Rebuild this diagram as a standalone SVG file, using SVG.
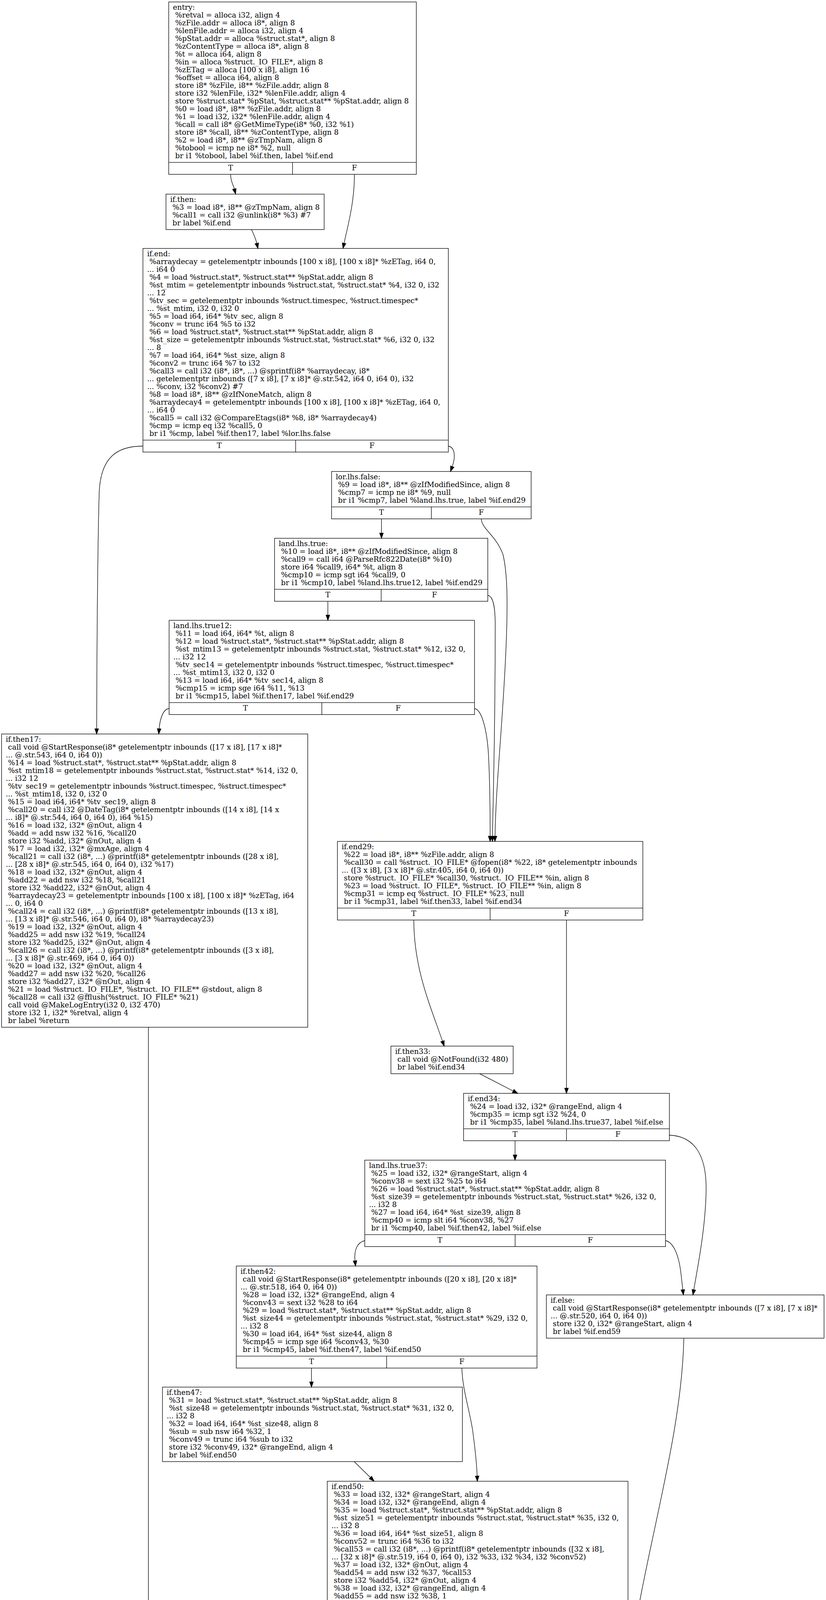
<svg xmlns="http://www.w3.org/2000/svg" width="2115" height="6420" viewBox="0 0 2115 6420">
<style>
.box{fill:none;stroke:#000;stroke-width:1.33}
.sep{stroke:#000;stroke-width:1.33}
.lbl{font-family:"DejaVu Serif","Liberation Serif",serif;font-size:18.67px;fill:#000}
.tf{font-family:"DejaVu Serif","Liberation Serif",serif;font-size:18.67px;fill:#000;text-anchor:middle}
.edge{fill:none;stroke:#000;stroke-width:1.33;marker-end:url(#ah)}
.cap{font-family:"DejaVu Serif","Liberation Serif",serif;font-size:18.67px;fill:#000;text-anchor:middle}
</style>
<defs>
<marker id="ah" markerUnits="userSpaceOnUse" markerWidth="16" markerHeight="12" refX="0" refY="6" orient="auto" viewBox="0 0 16 12" overflow="visible">
<path d="M0,1.33 L13.33,6 L0,10.67 z" fill="#000" stroke="#000" stroke-width="1.33"/>
</marker>
</defs>
<rect x="0" y="0" width="2115" height="6420" fill="#fff"/>

<g id="node-entry">
<rect class="box" x="432" y="5" width="634" height="441.33"/>
<line class="sep" x1="432" y1="415.67" x2="1066" y2="415.67"/>
<line class="sep" x1="749" y1="415.67" x2="749" y2="446.33"/>
<text class="lbl" x="442.67" y="25.3">
<tspan x="442.67">entry:</tspan>
<tspan x="442.67" dy="20">&#160;%retval = alloca i32, align 4</tspan>
<tspan x="442.67" dy="20">&#160;%zFile.addr = alloca i8*, align 8</tspan>
<tspan x="442.67" dy="20">&#160;%lenFile.addr = alloca i32, align 4</tspan>
<tspan x="442.67" dy="20">&#160;%pStat.addr = alloca %struct.stat*, align 8</tspan>
<tspan x="442.67" dy="20">&#160;%zContentType = alloca i8*, align 8</tspan>
<tspan x="442.67" dy="20">&#160;%t = alloca i64, align 8</tspan>
<tspan x="442.67" dy="20">&#160;%in = alloca %struct._IO_FILE*, align 8</tspan>
<tspan x="442.67" dy="20">&#160;%zETag = alloca [100 x i8], align 16</tspan>
<tspan x="442.67" dy="20">&#160;%offset = alloca i64, align 8</tspan>
<tspan x="442.67" dy="20">&#160;store i8* %zFile, i8** %zFile.addr, align 8</tspan>
<tspan x="442.67" dy="20">&#160;store i32 %lenFile, i32* %lenFile.addr, align 4</tspan>
<tspan x="442.67" dy="20">&#160;store %struct.stat* %pStat, %struct.stat** %pStat.addr, align 8</tspan>
<tspan x="442.67" dy="20">&#160;%0 = load i8*, i8** %zFile.addr, align 8</tspan>
<tspan x="442.67" dy="20">&#160;%1 = load i32, i32* %lenFile.addr, align 4</tspan>
<tspan x="442.67" dy="20">&#160;%call = call i8* @GetMimeType(i8* %0, i32 %1)</tspan>
<tspan x="442.67" dy="20">&#160;store i8* %call, i8** %zContentType, align 8</tspan>
<tspan x="442.67" dy="20">&#160;%2 = load i8*, i8** @zTmpNam, align 8</tspan>
<tspan x="442.67" dy="20">&#160;%tobool = icmp ne i8* %2, null</tspan>
<tspan x="442.67" dy="20">&#160;br i1 %tobool, label %if.then, label %if.end</tspan>
</text>
<text class="tf" x="590.5" y="436">T</text>
<text class="tf" x="907.5" y="436">F</text>
</g>

<g id="node-if.then">
<rect class="box" x="425" y="497" width="405" height="90.67"/>
<text class="lbl" x="435.67" y="517.3">
<tspan x="435.67">if.then:</tspan>
<tspan x="435.67" dy="20">&#160;%3 = load i8*, i8** @zTmpNam, align 8</tspan>
<tspan x="435.67" dy="20">&#160;%call1 = call i32 @unlink(i8* %3) #7</tspan>
<tspan x="435.67" dy="20">&#160;br label %if.end</tspan>
</text>
</g>

<g id="node-if.end">
<rect class="box" x="366" y="636" width="782" height="521.33"/>
<line class="sep" x1="366" y1="1126.67" x2="1148" y2="1126.67"/>
<line class="sep" x1="757" y1="1126.67" x2="757" y2="1157.33"/>
<text class="lbl" x="376.67" y="656.3">
<tspan x="376.67">if.end:</tspan>
<tspan x="376.67" dy="20">&#160;%arraydecay = getelementptr inbounds [100 x i8], [100 x i8]* %zETag, i64 0,</tspan>
<tspan x="376.67" dy="20">... i64 0</tspan>
<tspan x="376.67" dy="20">&#160;%4 = load %struct.stat*, %struct.stat** %pStat.addr, align 8</tspan>
<tspan x="376.67" dy="20">&#160;%st_mtim = getelementptr inbounds %struct.stat, %struct.stat* %4, i32 0, i32</tspan>
<tspan x="376.67" dy="20">... 12</tspan>
<tspan x="376.67" dy="20">&#160;%tv_sec = getelementptr inbounds %struct.timespec, %struct.timespec*</tspan>
<tspan x="376.67" dy="20">... %st_mtim, i32 0, i32 0</tspan>
<tspan x="376.67" dy="20">&#160;%5 = load i64, i64* %tv_sec, align 8</tspan>
<tspan x="376.67" dy="20">&#160;%conv = trunc i64 %5 to i32</tspan>
<tspan x="376.67" dy="20">&#160;%6 = load %struct.stat*, %struct.stat** %pStat.addr, align 8</tspan>
<tspan x="376.67" dy="20">&#160;%st_size = getelementptr inbounds %struct.stat, %struct.stat* %6, i32 0, i32</tspan>
<tspan x="376.67" dy="20">... 8</tspan>
<tspan x="376.67" dy="20">&#160;%7 = load i64, i64* %st_size, align 8</tspan>
<tspan x="376.67" dy="20">&#160;%conv2 = trunc i64 %7 to i32</tspan>
<tspan x="376.67" dy="20">&#160;%call3 = call i32 (i8*, i8*, ...) @sprintf(i8* %arraydecay, i8*</tspan>
<tspan x="376.67" dy="20">... getelementptr inbounds ([7 x i8], [7 x i8]* @.str.542, i64 0, i64 0), i32</tspan>
<tspan x="376.67" dy="20">... %conv, i32 %conv2) #7</tspan>
<tspan x="376.67" dy="20">&#160;%8 = load i8*, i8** @zIfNoneMatch, align 8</tspan>
<tspan x="376.67" dy="20">&#160;%arraydecay4 = getelementptr inbounds [100 x i8], [100 x i8]* %zETag, i64 0,</tspan>
<tspan x="376.67" dy="20">... i64 0</tspan>
<tspan x="376.67" dy="20">&#160;%call5 = call i32 @CompareEtags(i8* %8, i8* %arraydecay4)</tspan>
<tspan x="376.67" dy="20">&#160;%cmp = icmp eq i32 %call5, 0</tspan>
<tspan x="376.67" dy="20">&#160;br i1 %cmp, label %if.then17, label %lor.lhs.false</tspan>
</text>
<text class="tf" x="561.5" y="1147">T</text>
<text class="tf" x="952.5" y="1147">F</text>
</g>

<g id="node-lor.lhs.false">
<rect class="box" x="849" y="1207" width="511" height="121.33"/>
<line class="sep" x1="849" y1="1297.67" x2="1360" y2="1297.67"/>
<line class="sep" x1="1104.5" y1="1297.67" x2="1104.5" y2="1328.33"/>
<text class="lbl" x="859.67" y="1227.3">
<tspan x="859.67">lor.lhs.false:</tspan>
<tspan x="859.67" dy="20">&#160;%9 = load i8*, i8** @zIfModifiedSince, align 8</tspan>
<tspan x="859.67" dy="20">&#160;%cmp7 = icmp ne i8* %9, null</tspan>
<tspan x="859.67" dy="20">&#160;br i1 %cmp7, label %land.lhs.true, label %if.end29</tspan>
</text>
<text class="tf" x="976.75" y="1318">T</text>
<text class="tf" x="1232.25" y="1318">F</text>
</g>

<g id="node-land.lhs.true">
<rect class="box" x="703" y="1378" width="546" height="161.33"/>
<line class="sep" x1="703" y1="1508.67" x2="1249" y2="1508.67"/>
<line class="sep" x1="976" y1="1508.67" x2="976" y2="1539.33"/>
<text class="lbl" x="713.67" y="1398.3">
<tspan x="713.67">land.lhs.true:</tspan>
<tspan x="713.67" dy="20">&#160;%10 = load i8*, i8** @zIfModifiedSince, align 8</tspan>
<tspan x="713.67" dy="20">&#160;%call9 = call i64 @ParseRfc822Date(i8* %10)</tspan>
<tspan x="713.67" dy="20">&#160;store i64 %call9, i64* %t, align 8</tspan>
<tspan x="713.67" dy="20">&#160;%cmp10 = icmp sgt i64 %call9, 0</tspan>
<tspan x="713.67" dy="20">&#160;br i1 %cmp10, label %land.lhs.true12, label %if.end29</tspan>
</text>
<text class="tf" x="839.5" y="1529">T</text>
<text class="tf" x="1112.5" y="1529">F</text>
</g>

<g id="node-land.lhs.true12">
<rect class="box" x="433" y="1588" width="782" height="241.33"/>
<line class="sep" x1="433" y1="1798.67" x2="1215" y2="1798.67"/>
<line class="sep" x1="824" y1="1798.67" x2="824" y2="1829.33"/>
<text class="lbl" x="443.67" y="1608.3">
<tspan x="443.67">land.lhs.true12:</tspan>
<tspan x="443.67" dy="20">&#160;%11 = load i64, i64* %t, align 8</tspan>
<tspan x="443.67" dy="20">&#160;%12 = load %struct.stat*, %struct.stat** %pStat.addr, align 8</tspan>
<tspan x="443.67" dy="20">&#160;%st_mtim13 = getelementptr inbounds %struct.stat, %struct.stat* %12, i32 0,</tspan>
<tspan x="443.67" dy="20">... i32 12</tspan>
<tspan x="443.67" dy="20">&#160;%tv_sec14 = getelementptr inbounds %struct.timespec, %struct.timespec*</tspan>
<tspan x="443.67" dy="20">... %st_mtim13, i32 0, i32 0</tspan>
<tspan x="443.67" dy="20">&#160;%13 = load i64, i64* %tv_sec14, align 8</tspan>
<tspan x="443.67" dy="20">&#160;%cmp15 = icmp sge i64 %11, %13</tspan>
<tspan x="443.67" dy="20">&#160;br i1 %cmp15, label %if.then17, label %if.end29</tspan>
</text>
<text class="tf" x="628.5" y="1819">T</text>
<text class="tf" x="1019.5" y="1819">F</text>
</g>

<g id="node-if.then17">
<rect class="box" x="4" y="1879" width="784" height="750.67"/>
<text class="lbl" x="14.67" y="1899.3">
<tspan x="14.67">if.then17:</tspan>
<tspan x="14.67" dy="20">&#160;call void @StartResponse(i8* getelementptr inbounds ([17 x i8], [17 x i8]*</tspan>
<tspan x="14.67" dy="20">... @.str.543, i64 0, i64 0))</tspan>
<tspan x="14.67" dy="20">&#160;%14 = load %struct.stat*, %struct.stat** %pStat.addr, align 8</tspan>
<tspan x="14.67" dy="20">&#160;%st_mtim18 = getelementptr inbounds %struct.stat, %struct.stat* %14, i32 0,</tspan>
<tspan x="14.67" dy="20">... i32 12</tspan>
<tspan x="14.67" dy="20">&#160;%tv_sec19 = getelementptr inbounds %struct.timespec, %struct.timespec*</tspan>
<tspan x="14.67" dy="20">... %st_mtim18, i32 0, i32 0</tspan>
<tspan x="14.67" dy="20">&#160;%15 = load i64, i64* %tv_sec19, align 8</tspan>
<tspan x="14.67" dy="20">&#160;%call20 = call i32 @DateTag(i8* getelementptr inbounds ([14 x i8], [14 x</tspan>
<tspan x="14.67" dy="20">... i8]* @.str.544, i64 0, i64 0), i64 %15)</tspan>
<tspan x="14.67" dy="20">&#160;%16 = load i32, i32* @nOut, align 4</tspan>
<tspan x="14.67" dy="20">&#160;%add = add nsw i32 %16, %call20</tspan>
<tspan x="14.67" dy="20">&#160;store i32 %add, i32* @nOut, align 4</tspan>
<tspan x="14.67" dy="20">&#160;%17 = load i32, i32* @mxAge, align 4</tspan>
<tspan x="14.67" dy="20">&#160;%call21 = call i32 (i8*, ...) @printf(i8* getelementptr inbounds ([28 x i8],</tspan>
<tspan x="14.67" dy="20">... [28 x i8]* @.str.545, i64 0, i64 0), i32 %17)</tspan>
<tspan x="14.67" dy="20">&#160;%18 = load i32, i32* @nOut, align 4</tspan>
<tspan x="14.67" dy="20">&#160;%add22 = add nsw i32 %18, %call21</tspan>
<tspan x="14.67" dy="20">&#160;store i32 %add22, i32* @nOut, align 4</tspan>
<tspan x="14.67" dy="20">&#160;%arraydecay23 = getelementptr inbounds [100 x i8], [100 x i8]* %zETag, i64</tspan>
<tspan x="14.67" dy="20">... 0, i64 0</tspan>
<tspan x="14.67" dy="20">&#160;%call24 = call i32 (i8*, ...) @printf(i8* getelementptr inbounds ([13 x i8],</tspan>
<tspan x="14.67" dy="20">... [13 x i8]* @.str.546, i64 0, i64 0), i8* %arraydecay23)</tspan>
<tspan x="14.67" dy="20">&#160;%19 = load i32, i32* @nOut, align 4</tspan>
<tspan x="14.67" dy="20">&#160;%add25 = add nsw i32 %19, %call24</tspan>
<tspan x="14.67" dy="20">&#160;store i32 %add25, i32* @nOut, align 4</tspan>
<tspan x="14.67" dy="20">&#160;%call26 = call i32 (i8*, ...) @printf(i8* getelementptr inbounds ([3 x i8],</tspan>
<tspan x="14.67" dy="20">... [3 x i8]* @.str.469, i64 0, i64 0))</tspan>
<tspan x="14.67" dy="20">&#160;%20 = load i32, i32* @nOut, align 4</tspan>
<tspan x="14.67" dy="20">&#160;%add27 = add nsw i32 %20, %call26</tspan>
<tspan x="14.67" dy="20">&#160;store i32 %add27, i32* @nOut, align 4</tspan>
<tspan x="14.67" dy="20">&#160;%21 = load %struct._IO_FILE*, %struct._IO_FILE** @stdout, align 8</tspan>
<tspan x="14.67" dy="20">&#160;%call28 = call i32 @fflush(%struct._IO_FILE* %21)</tspan>
<tspan x="14.67" dy="20">&#160;call void @MakeLogEntry(i32 0, i32 470)</tspan>
<tspan x="14.67" dy="20">&#160;store i32 1, i32* %retval, align 4</tspan>
<tspan x="14.67" dy="20">&#160;br label %return</tspan>
</text>
</g>

<g id="node-if.end29">
<rect class="box" x="864" y="2154" width="782" height="201.33"/>
<line class="sep" x1="864" y1="2324.67" x2="1646" y2="2324.67"/>
<line class="sep" x1="1255" y1="2324.67" x2="1255" y2="2355.33"/>
<text class="lbl" x="874.67" y="2174.3">
<tspan x="874.67">if.end29:</tspan>
<tspan x="874.67" dy="20">&#160;%22 = load i8*, i8** %zFile.addr, align 8</tspan>
<tspan x="874.67" dy="20">&#160;%call30 = call %struct._IO_FILE* @fopen(i8* %22, i8* getelementptr inbounds</tspan>
<tspan x="874.67" dy="20">... ([3 x i8], [3 x i8]* @.str.405, i64 0, i64 0))</tspan>
<tspan x="874.67" dy="20">&#160;store %struct._IO_FILE* %call30, %struct._IO_FILE** %in, align 8</tspan>
<tspan x="874.67" dy="20">&#160;%23 = load %struct._IO_FILE*, %struct._IO_FILE** %in, align 8</tspan>
<tspan x="874.67" dy="20">&#160;%cmp31 = icmp eq %struct._IO_FILE* %23, null</tspan>
<tspan x="874.67" dy="20">&#160;br i1 %cmp31, label %if.then33, label %if.end34</tspan>
</text>
<text class="tf" x="1059.5" y="2345">T</text>
<text class="tf" x="1450.5" y="2345">F</text>
</g>

<g id="node-if.then33">
<rect class="box" x="1001" y="2678" width="313" height="70.67"/>
<text class="lbl" x="1011.67" y="2698.3">
<tspan x="1011.67">if.then33:</tspan>
<tspan x="1011.67" dy="20">&#160;call void @NotFound(i32 480)</tspan>
<tspan x="1011.67" dy="20">&#160;br label %if.end34</tspan>
</text>
</g>

<g id="node-if.end34">
<rect class="box" x="1187" y="2799" width="527" height="121.33"/>
<line class="sep" x1="1187" y1="2889.67" x2="1714" y2="2889.67"/>
<line class="sep" x1="1450.5" y1="2889.67" x2="1450.5" y2="2920.33"/>
<text class="lbl" x="1197.67" y="2819.3">
<tspan x="1197.67">if.end34:</tspan>
<tspan x="1197.67" dy="20">&#160;%24 = load i32, i32* @rangeEnd, align 4</tspan>
<tspan x="1197.67" dy="20">&#160;%cmp35 = icmp sgt i32 %24, 0</tspan>
<tspan x="1197.67" dy="20">&#160;br i1 %cmp35, label %land.lhs.true37, label %if.else</tspan>
</text>
<text class="tf" x="1318.75" y="2910">T</text>
<text class="tf" x="1582.25" y="2910">F</text>
</g>

<g id="node-land.lhs.true37">
<rect class="box" x="934" y="2970" width="770" height="221.33"/>
<line class="sep" x1="934" y1="3160.67" x2="1704" y2="3160.67"/>
<line class="sep" x1="1319" y1="3160.67" x2="1319" y2="3191.33"/>
<text class="lbl" x="944.67" y="2990.3">
<tspan x="944.67">land.lhs.true37:</tspan>
<tspan x="944.67" dy="20">&#160;%25 = load i32, i32* @rangeStart, align 4</tspan>
<tspan x="944.67" dy="20">&#160;%conv38 = sext i32 %25 to i64</tspan>
<tspan x="944.67" dy="20">&#160;%26 = load %struct.stat*, %struct.stat** %pStat.addr, align 8</tspan>
<tspan x="944.67" dy="20">&#160;%st_size39 = getelementptr inbounds %struct.stat, %struct.stat* %26, i32 0,</tspan>
<tspan x="944.67" dy="20">... i32 8</tspan>
<tspan x="944.67" dy="20">&#160;%27 = load i64, i64* %st_size39, align 8</tspan>
<tspan x="944.67" dy="20">&#160;%cmp40 = icmp slt i64 %conv38, %27</tspan>
<tspan x="944.67" dy="20">&#160;br i1 %cmp40, label %if.then42, label %if.else</tspan>
</text>
<text class="tf" x="1126.5" y="3181">T</text>
<text class="tf" x="1511.5" y="3181">F</text>
</g>

<g id="node-if.else">
<rect class="box" x="1399" y="3315" width="711" height="110.67"/>
<text class="lbl" x="1409.67" y="3335.3">
<tspan x="1409.67">if.else:</tspan>
<tspan x="1409.67" dy="20">&#160;call void @StartResponse(i8* getelementptr inbounds ([7 x i8], [7 x i8]*</tspan>
<tspan x="1409.67" dy="20">... @.str.520, i64 0, i64 0))</tspan>
<tspan x="1409.67" dy="20">&#160;store i32 0, i32* @rangeStart, align 4</tspan>
<tspan x="1409.67" dy="20">&#160;br label %if.end59</tspan>
</text>
</g>

<g id="node-if.then42">
<rect class="box" x="605" y="3241" width="770" height="261.33"/>
<line class="sep" x1="605" y1="3471.67" x2="1375" y2="3471.67"/>
<line class="sep" x1="990" y1="3471.67" x2="990" y2="3502.33"/>
<text class="lbl" x="615.67" y="3261.3">
<tspan x="615.67">if.then42:</tspan>
<tspan x="615.67" dy="20">&#160;call void @StartResponse(i8* getelementptr inbounds ([20 x i8], [20 x i8]*</tspan>
<tspan x="615.67" dy="20">... @.str.518, i64 0, i64 0))</tspan>
<tspan x="615.67" dy="20">&#160;%28 = load i32, i32* @rangeEnd, align 4</tspan>
<tspan x="615.67" dy="20">&#160;%conv43 = sext i32 %28 to i64</tspan>
<tspan x="615.67" dy="20">&#160;%29 = load %struct.stat*, %struct.stat** %pStat.addr, align 8</tspan>
<tspan x="615.67" dy="20">&#160;%st_size44 = getelementptr inbounds %struct.stat, %struct.stat* %29, i32 0,</tspan>
<tspan x="615.67" dy="20">... i32 8</tspan>
<tspan x="615.67" dy="20">&#160;%30 = load i64, i64* %st_size44, align 8</tspan>
<tspan x="615.67" dy="20">&#160;%cmp45 = icmp sge i64 %conv43, %30</tspan>
<tspan x="615.67" dy="20">&#160;br i1 %cmp45, label %if.then47, label %if.end50</tspan>
</text>
<text class="tf" x="797.5" y="3492">T</text>
<text class="tf" x="1182.5" y="3492">F</text>
</g>

<g id="node-if.then47">
<rect class="box" x="416" y="3551" width="768" height="190.67"/>
<text class="lbl" x="426.67" y="3571.3">
<tspan x="426.67">if.then47:</tspan>
<tspan x="426.67" dy="20">&#160;%31 = load %struct.stat*, %struct.stat** %pStat.addr, align 8</tspan>
<tspan x="426.67" dy="20">&#160;%st_size48 = getelementptr inbounds %struct.stat, %struct.stat* %31, i32 0,</tspan>
<tspan x="426.67" dy="20">... i32 8</tspan>
<tspan x="426.67" dy="20">&#160;%32 = load i64, i64* %st_size48, align 8</tspan>
<tspan x="426.67" dy="20">&#160;%sub = sub nsw i64 %32, 1</tspan>
<tspan x="426.67" dy="20">&#160;%conv49 = trunc i64 %sub to i32</tspan>
<tspan x="426.67" dy="20">&#160;store i32 %conv49, i32* @rangeEnd, align 4</tspan>
<tspan x="426.67" dy="20">&#160;br label %if.end50</tspan>
</text>
</g>

<g id="node-if.end50">
<rect class="box" x="838" y="3792" width="770" height="470.67"/>
<text class="lbl" x="848.67" y="3812.3">
<tspan x="848.67">if.end50:</tspan>
<tspan x="848.67" dy="20">&#160;%33 = load i32, i32* @rangeStart, align 4</tspan>
<tspan x="848.67" dy="20">&#160;%34 = load i32, i32* @rangeEnd, align 4</tspan>
<tspan x="848.67" dy="20">&#160;%35 = load %struct.stat*, %struct.stat** %pStat.addr, align 8</tspan>
<tspan x="848.67" dy="20">&#160;%st_size51 = getelementptr inbounds %struct.stat, %struct.stat* %35, i32 0,</tspan>
<tspan x="848.67" dy="20">... i32 8</tspan>
<tspan x="848.67" dy="20">&#160;%36 = load i64, i64* %st_size51, align 8</tspan>
<tspan x="848.67" dy="20">&#160;%conv52 = trunc i64 %36 to i32</tspan>
<tspan x="848.67" dy="20">&#160;%call53 = call i32 (i8*, ...) @printf(i8* getelementptr inbounds ([32 x i8],</tspan>
<tspan x="848.67" dy="20">... [32 x i8]* @.str.519, i64 0, i64 0), i32 %33, i32 %34, i32 %conv52)</tspan>
<tspan x="848.67" dy="20">&#160;%37 = load i32, i32* @nOut, align 4</tspan>
<tspan x="848.67" dy="20">&#160;%add54 = add nsw i32 %37, %call53</tspan>
<tspan x="848.67" dy="20">&#160;store i32 %add54, i32* @nOut, align 4</tspan>
<tspan x="848.67" dy="20">&#160;%38 = load i32, i32* @rangeEnd, align 4</tspan>
<tspan x="848.67" dy="20">&#160;%add55 = add nsw i32 %38, 1</tspan>
<tspan x="848.67" dy="20">&#160;%39 = load i32, i32* @rangeStart, align 4</tspan>
<tspan x="848.67" dy="20">&#160;%sub56 = sub nsw i32 %add55, %39</tspan>
<tspan x="848.67" dy="20">&#160;%conv57 = sext i32 %sub56 to i64</tspan>
<tspan x="848.67" dy="20">&#160;%40 = load %struct.stat*, %struct.stat** %pStat.addr, align 8</tspan>
<tspan x="848.67" dy="20">&#160;%st_size58 = getelementptr inbounds %struct.stat, %struct.stat* %40, i32 0,</tspan>
<tspan x="848.67" dy="20">... i32 8</tspan>
<tspan x="848.67" dy="20">&#160;store i64 %conv57, i64* %st_size58, align 8</tspan>
<tspan x="848.67" dy="20">&#160;br label %if.end59</tspan>
</text>
</g>

<g id="node-if.end59">
<rect class="box" x="938" y="4311" width="783" height="1001.33"/>
<line class="sep" x1="938" y1="5281.67" x2="1721" y2="5281.67"/>
<line class="sep" x1="1329.5" y1="5281.67" x2="1329.5" y2="5312.33"/>
<text class="lbl" x="948.67" y="4331.3">
<tspan x="948.67">if.end59:</tspan>
<tspan x="948.67" dy="20">&#160;%41 = load %struct.stat*, %struct.stat** %pStat.addr, align 8</tspan>
<tspan x="948.67" dy="20">&#160;%st_mtim60 = getelementptr inbounds %struct.stat, %struct.stat* %41, i32 0,</tspan>
<tspan x="948.67" dy="20">... i32 12</tspan>
<tspan x="948.67" dy="20">&#160;%tv_sec61 = getelementptr inbounds %struct.timespec, %struct.timespec*</tspan>
<tspan x="948.67" dy="20">... %st_mtim60, i32 0, i32 0</tspan>
<tspan x="948.67" dy="20">&#160;%42 = load i64, i64* %tv_sec61, align 8</tspan>
<tspan x="948.67" dy="20">&#160;%call62 = call i32 @DateTag(i8* getelementptr inbounds ([14 x i8], [14 x</tspan>
<tspan x="948.67" dy="20">... i8]* @.str.544, i64 0, i64 0), i64 %42)</tspan>
<tspan x="948.67" dy="20">&#160;%43 = load i32, i32* @nOut, align 4</tspan>
<tspan x="948.67" dy="20">&#160;%add63 = add nsw i32 %43, %call62</tspan>
<tspan x="948.67" dy="20">&#160;store i32 %add63, i32* @nOut, align 4</tspan>
<tspan x="948.67" dy="20">&#160;%44 = load i32, i32* @mxAge, align 4</tspan>
<tspan x="948.67" dy="20">&#160;%call64 = call i32 (i8*, ...) @printf(i8* getelementptr inbounds ([28 x i8],</tspan>
<tspan x="948.67" dy="20">... [28 x i8]* @.str.545, i64 0, i64 0), i32 %44)</tspan>
<tspan x="948.67" dy="20">&#160;%45 = load i32, i32* @nOut, align 4</tspan>
<tspan x="948.67" dy="20">&#160;%add65 = add nsw i32 %45, %call64</tspan>
<tspan x="948.67" dy="20">&#160;store i32 %add65, i32* @nOut, align 4</tspan>
<tspan x="948.67" dy="20">&#160;%arraydecay66 = getelementptr inbounds [100 x i8], [100 x i8]* %zETag, i64</tspan>
<tspan x="948.67" dy="20">... 0, i64 0</tspan>
<tspan x="948.67" dy="20">&#160;%call67 = call i32 (i8*, ...) @printf(i8* getelementptr inbounds ([13 x i8],</tspan>
<tspan x="948.67" dy="20">... [13 x i8]* @.str.546, i64 0, i64 0), i8* %arraydecay66)</tspan>
<tspan x="948.67" dy="20">&#160;%46 = load i32, i32* @nOut, align 4</tspan>
<tspan x="948.67" dy="20">&#160;%add68 = add nsw i32 %46, %call67</tspan>
<tspan x="948.67" dy="20">&#160;store i32 %add68, i32* @nOut, align 4</tspan>
<tspan x="948.67" dy="20">&#160;%47 = load i8*, i8** %zContentType, align 8</tspan>
<tspan x="948.67" dy="20">&#160;%call69 = call i32 (i8*, ...) @printf(i8* getelementptr inbounds ([34 x i8],</tspan>
<tspan x="948.67" dy="20">... [34 x i8]* @.str.547, i64 0, i64 0), i8* %47)</tspan>
<tspan x="948.67" dy="20">&#160;%48 = load i32, i32* @nOut, align 4</tspan>
<tspan x="948.67" dy="20">&#160;%add70 = add nsw i32 %48, %call69</tspan>
<tspan x="948.67" dy="20">&#160;store i32 %add70, i32* @nOut, align 4</tspan>
<tspan x="948.67" dy="20">&#160;%49 = load %struct.stat*, %struct.stat** %pStat.addr, align 8</tspan>
<tspan x="948.67" dy="20">&#160;%st_size71 = getelementptr inbounds %struct.stat, %struct.stat* %49, i32 0,</tspan>
<tspan x="948.67" dy="20">... i32 8</tspan>
<tspan x="948.67" dy="20">&#160;%50 = load i64, i64* %st_size71, align 8</tspan>
<tspan x="948.67" dy="20">&#160;%conv72 = trunc i64 %50 to i32</tspan>
<tspan x="948.67" dy="20">&#160;%call73 = call i32 (i8*, ...) @printf(i8* getelementptr inbounds ([23 x i8],</tspan>
<tspan x="948.67" dy="20">... [23 x i8]* @.str.522, i64 0, i64 0), i32 %conv72)</tspan>
<tspan x="948.67" dy="20">&#160;%51 = load i32, i32* @nOut, align 4</tspan>
<tspan x="948.67" dy="20">&#160;%add74 = add nsw i32 %51, %call73</tspan>
<tspan x="948.67" dy="20">&#160;store i32 %add74, i32* @nOut, align 4</tspan>
<tspan x="948.67" dy="20">&#160;%52 = load %struct._IO_FILE*, %struct._IO_FILE** @stdout, align 8</tspan>
<tspan x="948.67" dy="20">&#160;%call75 = call i32 @fflush(%struct._IO_FILE* %52)</tspan>
<tspan x="948.67" dy="20">&#160;%53 = load i8*, i8** @zMethod, align 8</tspan>
<tspan x="948.67" dy="20">&#160;%call76 = call i32 @strcmp(i8* %53, i8* getelementptr inbounds ([5 x i8], [5</tspan>
<tspan x="948.67" dy="20">... x i8]* @.str.343, i64 0, i64 0)) #8</tspan>
<tspan x="948.67" dy="20">&#160;%cmp77 = icmp eq i32 %call76, 0</tspan>
<tspan x="948.67" dy="20">&#160;br i1 %cmp77, label %if.then79, label %if.end82</tspan>
</text>
<text class="tf" x="1133.75" y="5302">T</text>
<text class="tf" x="1525.25" y="5302">F</text>
</g>

<g id="node-if.end82">
<rect class="box" x="1378" y="5361" width="507" height="121.33"/>
<line class="sep" x1="1378" y1="5451.67" x2="1885" y2="5451.67"/>
<line class="sep" x1="1631.5" y1="5451.67" x2="1631.5" y2="5482.33"/>
<text class="lbl" x="1388.67" y="5381.3">
<tspan x="1388.67">if.end82:</tspan>
<tspan x="1388.67" dy="20">&#160;%56 = load i32, i32* @useTimeout, align 4</tspan>
<tspan x="1388.67" dy="20">&#160;%tobool83 = icmp ne i32 %56, 0</tspan>
<tspan x="1388.67" dy="20">&#160;br i1 %tobool83, label %if.then84, label %if.end89</tspan>
</text>
<text class="tf" x="1504.75" y="5472">T</text>
<text class="tf" x="1758.25" y="5472">F</text>
</g>

<g id="node-if.then79">
<rect class="box" x="415" y="5553" width="681" height="170.67"/>
<text class="lbl" x="425.67" y="5573.3">
<tspan x="425.67">if.then79:</tspan>
<tspan x="425.67" dy="20">&#160;call void @MakeLogEntry(i32 0, i32 2)</tspan>
<tspan x="425.67" dy="20">&#160;%54 = load %struct._IO_FILE*, %struct._IO_FILE** %in, align 8</tspan>
<tspan x="425.67" dy="20">&#160;%call80 = call i32 @fclose(%struct._IO_FILE* %54)</tspan>
<tspan x="425.67" dy="20">&#160;%55 = load %struct._IO_FILE*, %struct._IO_FILE** @stdout, align 8</tspan>
<tspan x="425.67" dy="20">&#160;%call81 = call i32 @fflush(%struct._IO_FILE* %55)</tspan>
<tspan x="425.67" dy="20">&#160;store i32 1, i32* %retval, align 4</tspan>
<tspan x="425.67" dy="20">&#160;br label %return</tspan>
</text>
</g>

<g id="node-if.then84">
<rect class="box" x="1120" y="5533" width="769" height="210.67"/>
<text class="lbl" x="1130.67" y="5553.3">
<tspan x="1130.67">if.then84:</tspan>
<tspan x="1130.67" dy="20">&#160;%57 = load %struct.stat*, %struct.stat** %pStat.addr, align 8</tspan>
<tspan x="1130.67" dy="20">&#160;%st_size85 = getelementptr inbounds %struct.stat, %struct.stat* %57, i32 0,</tspan>
<tspan x="1130.67" dy="20">... i32 8</tspan>
<tspan x="1130.67" dy="20">&#160;%58 = load i64, i64* %st_size85, align 8</tspan>
<tspan x="1130.67" dy="20">&#160;%div = sdiv i64 %58, 1000</tspan>
<tspan x="1130.67" dy="20">&#160;%add86 = add nsw i64 30, %div</tspan>
<tspan x="1130.67" dy="20">&#160;%conv87 = trunc i64 %add86 to i32</tspan>
<tspan x="1130.67" dy="20">&#160;%call88 = call i32 @alarm(i32 %conv87) #7</tspan>
<tspan x="1130.67" dy="20">&#160;br label %if.end89</tspan>
</text>
</g>

<g id="node-if.end89">
<rect class="box" x="1120" y="5793" width="769" height="470.67"/>
<text class="lbl" x="1130.67" y="5813.3">
<tspan x="1130.67">if.end89:</tspan>
<tspan x="1130.67" dy="20">&#160;%59 = load i32, i32* @rangeStart, align 4</tspan>
<tspan x="1130.67" dy="20">&#160;%conv90 = sext i32 %59 to i64</tspan>
<tspan x="1130.67" dy="20">&#160;store i64 %conv90, i64* %offset, align 8</tspan>
<tspan x="1130.67" dy="20">&#160;%60 = load %struct._IO_FILE*, %struct._IO_FILE** @stdout, align 8</tspan>
<tspan x="1130.67" dy="20">&#160;%call91 = call i32 @fileno(%struct._IO_FILE* %60) #7</tspan>
<tspan x="1130.67" dy="20">&#160;%61 = load %struct._IO_FILE*, %struct._IO_FILE** %in, align 8</tspan>
<tspan x="1130.67" dy="20">&#160;%call92 = call i32 @fileno(%struct._IO_FILE* %61) #7</tspan>
<tspan x="1130.67" dy="20">&#160;%62 = load %struct.stat*, %struct.stat** %pStat.addr, align 8</tspan>
<tspan x="1130.67" dy="20">&#160;%st_size93 = getelementptr inbounds %struct.stat, %struct.stat* %62, i32 0,</tspan>
<tspan x="1130.67" dy="20">... i32 8</tspan>
<tspan x="1130.67" dy="20">&#160;%63 = load i64, i64* %st_size93, align 8</tspan>
<tspan x="1130.67" dy="20">&#160;%call94 = call i64 @sendfile(i32 %call91, i32 %call92, i64* %offset, i64</tspan>
<tspan x="1130.67" dy="20">... %63) #7</tspan>
<tspan x="1130.67" dy="20">&#160;%64 = load i32, i32* @nOut, align 4</tspan>
<tspan x="1130.67" dy="20">&#160;%conv95 = sext i32 %64 to i64</tspan>
<tspan x="1130.67" dy="20">&#160;%add96 = add nsw i64 %conv95, %call94</tspan>
<tspan x="1130.67" dy="20">&#160;%conv97 = trunc i64 %add96 to i32</tspan>
<tspan x="1130.67" dy="20">&#160;store i32 %conv97, i32* @nOut, align 4</tspan>
<tspan x="1130.67" dy="20">&#160;%65 = load %struct._IO_FILE*, %struct._IO_FILE** %in, align 8</tspan>
<tspan x="1130.67" dy="20">&#160;%call98 = call i32 @fclose(%struct._IO_FILE* %65)</tspan>
<tspan x="1130.67" dy="20">&#160;store i32 0, i32* %retval, align 4</tspan>
<tspan x="1130.67" dy="20">&#160;br label %return</tspan>
</text>
</g>

<g id="node-return">
<rect class="box" x="564" y="6314" width="382" height="70.67"/>
<text class="lbl" x="574.67" y="6334.3">
<tspan x="574.67">return:</tspan>
<tspan x="574.67" dy="20">&#160;%66 = load i32, i32* %retval, align 4</tspan>
<tspan x="574.67" dy="20">&#160;ret i32 %66</tspan>
</text>
</g>

<g id="edges">
<path class="edge" d="M590.5,446.3 C590.5,465 597,472 600,483.7"/>
<path class="edge" d="M907.5,446.3 C907.5,520 890,580 881,622.8"/>
<path class="edge" d="M644,587.7 C650,600 655,612 657.5,623"/>
<path class="edge" d="M366,1142 C300,1142 258,1170 254,1260 C250,1400 248,1700 247.5,1865.7"/>
<path class="edge" d="M1148,1142 C1165,1145 1167,1170 1158,1194.5"/>
<path class="edge" d="M976.75,1328.3 L976.75,1364.7"/>
<path class="edge" d="M1232.25,1328.3 C1234,1355 1270,1370 1288,1420 C1300,1470 1300,1550 1296,1650 C1288,1850 1270,2000 1267.5,2140.7"/>
<path class="edge" d="M839.5,1539.3 L839.5,1574.7"/>
<path class="edge" d="M1249,1524 C1262,1526 1268,1550 1268,1600 C1268,1900 1262,2060 1261,2140.7"/>
<path class="edge" d="M433,1814 C420,1814 410,1835 407.5,1865.7"/>
<path class="edge" d="M1215,1814 C1232,1816 1245,1860 1250,1920 C1255,2000 1255,2080 1255,2140.7"/>
<path class="edge" d="M380,2629.7 L380,5650 C382,5900 520,6120 711,6304.5"/>
<path class="edge" d="M1059.5,2355.3 C1060,2480 1100,2570 1133,2665.4"/>
<path class="edge" d="M1450.5,2355.3 L1450.5,2785.7"/>
<path class="edge" d="M1228,2748.7 L1314,2793"/>
<path class="edge" d="M1318.75,2920.3 L1318.75,2956.7"/>
<path class="edge" d="M1713,2906 C1780,2908 1810,2960 1808,3050 C1806,3150 1785,3250 1776.5,3301.9"/>
<path class="edge" d="M934,3176 C915,3180 906,3200 909,3227.8"/>
<path class="edge" d="M1704,3176 C1725,3180 1738,3215 1743,3255 L1748.4,3301.8"/>
<path class="edge" d="M797.5,3502.3 L797.5,3537.7"/>
<path class="edge" d="M1182.5,3502.3 C1185,3560 1200,3600 1210,3660 C1218,3720 1221,3755 1221.8,3778.7"/>
<path class="edge" d="M907,3741.7 L948.5,3782.5"/>
<path class="edge" d="M1751,3425.7 C1745,3700 1640,4000 1607.5,4297.8"/>
<path class="edge" d="M1254,4262.7 C1256,4280 1259,4288 1260,4297.7"/>
<path class="edge" d="M938,5298 C860,5300 800,5340 785,5420 L766.7,5539.8"/>
<path class="edge" d="M1525.25,5312.3 C1526,5330 1530,5340 1537,5349.8"/>
<path class="edge" d="M1504.75,5482.3 L1504.75,5519.7"/>
<path class="edge" d="M1885,5467 C1950,5469 1985,5500 1976,5580 C1966,5680 1905,5735 1879,5781.5"/>
<path class="edge" d="M1504.5,5743.7 L1504.5,5779.7"/>
<path class="edge" d="M755.5,5723.7 L755.5,6300.7"/>
<path class="edge" d="M1120,6190 L848.2,6308.7"/>
</g>

<text class="cap" x="1057.5" y="6406">CFG for 'SendFile' function</text>
</svg>
